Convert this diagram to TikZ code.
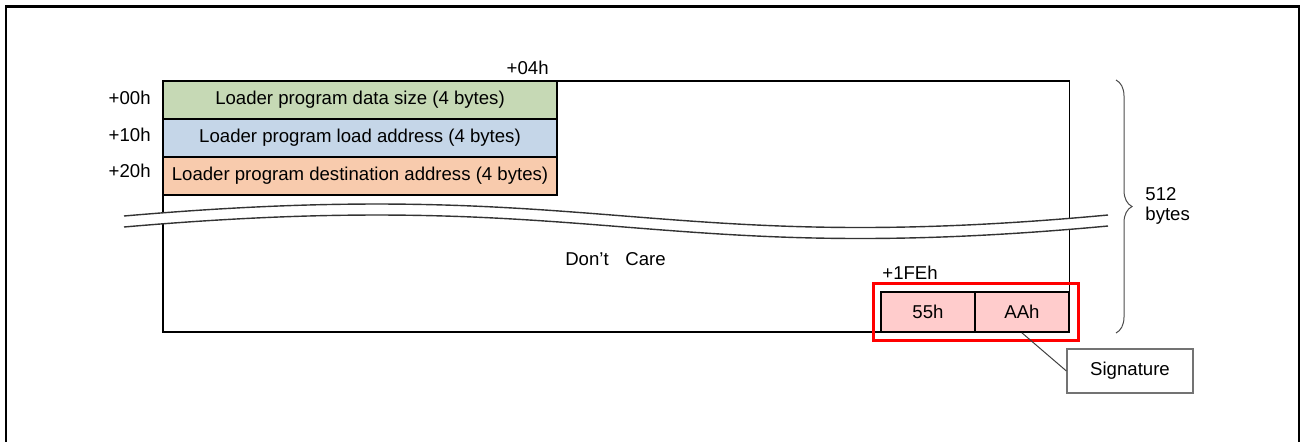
\documentclass[tikz,border=0pt]{standalone}
\usepackage{fontspec}
\setmainfont{Liberation Sans}
\usetikzlibrary{positioning,decorations.pathreplacing}

\definecolor{sizegreen}{RGB}{198,217,181}
\definecolor{loadblue}{RGB}{197,214,232}
\definecolor{destorange}{RGB}{248,203,173}
\definecolor{sigpink}{RGB}{255,204,204}

\begin{document}
\begin{tikzpicture}[x=5pt, y=-5pt, font=\fontsize{9.3}{10.5}\selectfont,
	field/.style={draw, line width=0.9pt, minimum width=197pt, minimum height=19pt, inner sep=0pt},
	sigbyte/.style={draw, line width=0.9pt, fill=sigpink, minimum width=47pt, minimum height=20pt, inner sep=0pt},
	offset/.style={anchor=east, inner sep=0pt},
	wave/.style={black!80, line width=0.7pt}]

		\useasboundingbox (0,0) rectangle (130.1,44.1);
		% frame, open at the bottom
		\draw[line width=1.1pt] (0.6,44.6) -- (0.6,0.65) -- (129.9,0.65) -- (129.9,44.6);

		% 512-byte block
		\draw[line width=0.9pt] (16.3,8.1) rectangle (106.95,33.2);

		\draw (36.0,10.0) node [field, fill=sizegreen] (size) {Loader program data size (4 bytes)};
		\draw (36.0,13.8) node [field, fill=loadblue] (load) {Loader program load address (4 bytes)};
		\draw (36.0,17.6) node [field, fill=destorange] (dest) {Loader program destination address (4 bytes)};

		\draw (15.1,9.75) node [offset] (o00) {+00h};
		\draw (15.1,13.45) node [offset] (o10) {+10h};
		\draw (15.1,17.05) node [offset] (o20) {+20h};
		\draw (54.9,6.8) node [offset] (o04) {+04h};

		% break marks
		\fill[white] (12.4,21.6) .. controls (60.0,17.45) and (65.0,25.75) .. (110.8,21.5)
			-- (110.8,22.6) .. controls (65.0,26.85) and (60.0,18.55) .. (12.4,22.7) -- cycle;
		\draw[wave] (12.4,21.6) .. controls (60.0,17.45) and (65.0,25.75) .. (110.8,21.5);
		\draw[wave] (12.4,22.7) .. controls (60.0,18.55) and (65.0,26.85) .. (110.8,22.6);

		\draw (61.55,25.95) node (dc) {Don’t\hspace{0.9em}Care};

		% signature bytes
		\draw (88.2,27.25) node [anchor=west, inner sep=0pt] (o1fe) {+1FEh};
		\draw (92.8,31.2) node [sigbyte] (b55) {55h};
		\draw (102.2,31.2) node [sigbyte] (bAA) {AAh};
		\draw[red, line width=1.5pt] (87.3,28.35) rectangle (107.8,34.05);

		\draw (113.0,37.1) node [draw=black!55, line width=0.6pt, minimum width=63pt, minimum height=22pt] (sig) {Signature};
		\draw[black!75, line width=0.5pt] (bAA.south) -- (sig.west);

		% size brace
		\draw[decorate, decoration={brace, amplitude=8pt}, black!70, line width=0.5pt] (111.6,8.0) -- (111.6,33.3);
		\draw (114.5,20.6) node [anchor=west, align=left, inner sep=0pt, font=\fontsize{9.3}{10}\selectfont] (len) {512\\bytes};
	\end{tikzpicture}
\end{document}
